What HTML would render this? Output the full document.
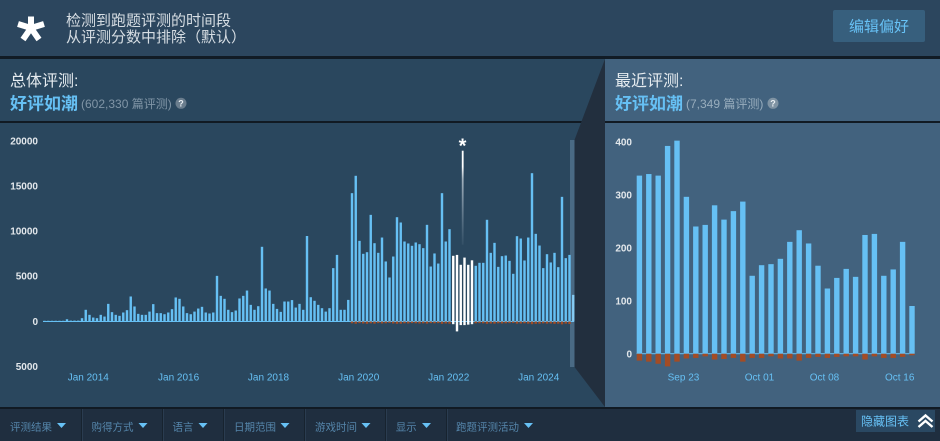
<!DOCTYPE html>
<html><head><meta charset="utf-8">
<style>
html,body{margin:0;padding:0;width:940px;height:441px;overflow:hidden;background:#1f2e3f}
svg{display:block}
text{font-family:"Liberation Sans","Noto Sans CJK SC",sans-serif}
</style></head>
<body>
<svg width="940" height="441" viewBox="0 0 940 441" xmlns="http://www.w3.org/2000/svg">
<defs>
<linearGradient id="spk" x1="0" y1="0" x2="0" y2="1">
<stop offset="0" stop-color="#ffffff"/>
<stop offset="0.17" stop-color="#ffffff"/>
<stop offset="0.3" stop-color="#b8c4ce" stop-opacity="0.85"/>
<stop offset="1" stop-color="#8fa3b4" stop-opacity="0.1"/>
</linearGradient>
</defs>
<!-- backgrounds -->
<rect x="0" y="0" width="940" height="441" fill="#2a475e"/>
<rect x="0" y="0" width="940" height="56" fill="#2c465e"/>
<rect x="0" y="56" width="940" height="3" fill="#111b25"/>
<rect x="0" y="121" width="940" height="2" fill="#111a23"/>
<polygon points="574.5,140 605,59 605,407 574.5,367" fill="#222f3e"/>
<rect x="605" y="59" width="335" height="348" fill="#42627e"/>
<rect x="605" y="121" width="335" height="2" fill="#111a23"/>
<rect x="0" y="407" width="940" height="2" fill="#111a23"/>
<rect x="0" y="409" width="940" height="32" fill="#1f2e3f"/>

<!-- top bar -->
<g stroke="#ffffff" stroke-width="6" stroke-linecap="butt">
<line x1="31" y1="28" x2="31" y2="16.5"/>
<line x1="31" y1="28" x2="18" y2="24"/>
<line x1="31" y1="28" x2="44" y2="24"/>
<line x1="31" y1="28" x2="23" y2="39.5"/>
<line x1="31" y1="28" x2="39" y2="39.5"/>
</g>
<text x="66" y="25.7" font-size="15" fill="#d6dde3">检测到跑题评测的时间段</text>
<text x="66" y="42" font-size="15" fill="#d6dde3">从评测分数中排除（默认）</text>
<rect x="833" y="10" width="92" height="32" rx="2" fill="#375f7d"/>
<text x="879" y="31.4" font-size="15" fill="#67c1f5" text-anchor="middle">编辑偏好</text>

<!-- left header -->
<text x="10" y="86" font-size="16" fill="#e6ecf0">总体评测:</text>
<text x="10" y="109.5" font-size="17" font-weight="bold" fill="#66c0f4">好评如潮</text>
<text x="81" y="107.8" font-size="12" fill="#8095a6">(602,330 篇评测)</text>
<circle cx="181" cy="103.3" r="5.5" fill="#6a7d8d"/>
<text x="181" y="106.6" font-size="9" font-weight="bold" fill="#e8eef2" text-anchor="middle">?</text>

<!-- right header -->
<text x="615" y="86" font-size="16" fill="#e6ecf0">最近评测:</text>
<text x="615" y="109.5" font-size="17" font-weight="bold" fill="#66c0f4">好评如潮</text>
<text x="686" y="107.8" font-size="12" fill="#98adbd">(7,349 篇评测)</text>
<circle cx="773" cy="103.3" r="5.5" fill="#7f93a3"/>
<text x="773" y="106.6" font-size="9" font-weight="bold" fill="#e8eef2" text-anchor="middle">?</text>

<!-- left chart axes -->
<g font-size="10" font-weight="bold" fill="#e2e7eb" text-anchor="end">
<text x="38" y="144.6">20000</text>
<text x="38" y="189.6">15000</text>
<text x="38" y="234.6">10000</text>
<text x="38" y="279.6">5000</text>
<text x="38" y="325.2">0</text>
<text x="38" y="369.9">5000</text>
</g>
<g font-size="10" fill="#66c0f4" text-anchor="middle">
<text x="88.3" y="380.6">Jan 2014</text>
<text x="178.6" y="380.6">Jan 2016</text>
<text x="268.5" y="380.6">Jan 2018</text>
<text x="358.7" y="380.6">Jan 2020</text>
<text x="448.7" y="380.6">Jan 2022</text>
<text x="538.7" y="380.6">Jan 2024</text>
</g>

<rect x="570" y="140" width="4.5" height="227" fill="#4a6a84"/>
<rect x="43" y="321" width="531" height="1" fill="#66c0f4"/>

<g transform="translate(43.3 321.5) scale(1 -0.009)">
<g fill="#66c0f4">
<rect x="0" width="2.4" height="80"/><rect x="3.75" width="2.4" height="80"/><rect x="7.5" width="2.4" height="80"/><rect x="11.25" width="2.4" height="80"/><rect x="15" width="2.4" height="80"/><rect x="18.75" width="2.4" height="80"/><rect x="22.5" width="2.4" height="250"/><rect x="26.25" width="2.4" height="100"/><rect x="30" width="2.4" height="100"/><rect x="33.75" width="2.4" height="100"/>
<rect x="37.5" width="2.4" height="370"/><rect x="41.25" width="2.4" height="1300"/><rect x="45" width="2.4" height="740"/><rect x="48.75" width="2.4" height="440"/><rect x="52.5" width="2.4" height="370"/><rect x="56.25" width="2.4" height="740"/><rect x="60" width="2.4" height="550"/><rect x="63.75" width="2.4" height="1960"/><rect x="67.5" width="2.4" height="1040"/><rect x="71.25" width="2.4" height="740"/>
<rect x="75" width="2.4" height="630"/><rect x="78.75" width="2.4" height="1000"/><rect x="82.5" width="2.4" height="1260"/><rect x="86.25" width="2.4" height="2780"/><rect x="90" width="2.4" height="1670"/><rect x="93.75" width="2.4" height="850"/><rect x="97.5" width="2.4" height="740"/><rect x="101.25" width="2.4" height="740"/><rect x="105" width="2.4" height="1100"/><rect x="108.75" width="2.4" height="1930"/>
<rect x="112.5" width="2.4" height="930"/><rect x="116.25" width="2.4" height="930"/><rect x="120" width="2.4" height="810"/><rect x="123.75" width="2.4" height="1000"/><rect x="127.5" width="2.4" height="1370"/><rect x="131.25" width="2.4" height="2670"/><rect x="135" width="2.4" height="2520"/><rect x="138.75" width="2.4" height="1670"/><rect x="142.5" width="2.4" height="930"/><rect x="146.25" width="2.4" height="810"/>
<rect x="150" width="2.4" height="1100"/><rect x="153.75" width="2.4" height="1440"/><rect x="157.5" width="2.4" height="1630"/><rect x="161.25" width="2.4" height="1000"/><rect x="165" width="2.4" height="890"/><rect x="168.75" width="2.4" height="1000"/><rect x="172.5" width="2.4" height="5070"/><rect x="176.25" width="2.4" height="2850"/><rect x="180" width="2.4" height="2520"/><rect x="183.75" width="2.4" height="1300"/>
<rect x="187.5" width="2.4" height="1040"/><rect x="191.25" width="2.4" height="1220"/><rect x="195" width="2.4" height="2560"/><rect x="198.75" width="2.4" height="2850"/><rect x="202.5" width="2.4" height="3440"/><rect x="206.25" width="2.4" height="1850"/><rect x="210" width="2.4" height="1300"/><rect x="213.75" width="2.4" height="1700"/><rect x="217.5" width="2.4" height="8300"/><rect x="221.25" width="2.4" height="3670"/>
<rect x="225" width="2.4" height="3440"/><rect x="228.75" width="2.4" height="1960"/><rect x="232.5" width="2.4" height="1400"/><rect x="236.25" width="2.4" height="1070"/><rect x="240" width="2.4" height="2220"/><rect x="243.75" width="2.4" height="2220"/><rect x="247.5" width="2.4" height="2380"/><rect x="251.25" width="2.4" height="1550"/><rect x="255" width="2.4" height="1960"/><rect x="258.75" width="2.4" height="1300"/>
<rect x="262.5" width="2.4" height="9500"/><rect x="266.25" width="2.4" height="2700"/><rect x="270" width="2.4" height="2300"/><rect x="273.75" width="2.4" height="1850"/><rect x="277.5" width="2.4" height="1480"/><rect x="281.25" width="2.4" height="1100"/><rect x="285" width="2.4" height="1480"/><rect x="288.75" width="2.4" height="5930"/><rect x="292.5" width="2.4" height="7400"/><rect x="296.25" width="2.4" height="1300"/>
<rect x="300" width="2.4" height="1300"/><rect x="303.75" width="2.4" height="2400"/><rect x="307.5" width="2.4" height="14260"/><rect x="311.25" width="2.4" height="16190"/><rect x="315" width="2.4" height="8960"/><rect x="318.75" width="2.4" height="7520"/><rect x="322.5" width="2.4" height="7700"/><rect x="326.25" width="2.4" height="11850"/><rect x="330" width="2.4" height="8700"/><rect x="333.75" width="2.4" height="7630"/>
<rect x="337.5" width="2.4" height="9330"/><rect x="341.25" width="2.4" height="6670"/><rect x="345" width="2.4" height="4890"/><rect x="348.75" width="2.4" height="7220"/><rect x="352.5" width="2.4" height="11590"/><rect x="356.25" width="2.4" height="11000"/><rect x="360" width="2.4" height="8890"/><rect x="363.75" width="2.4" height="8670"/><rect x="367.5" width="2.4" height="8410"/><rect x="371.25" width="2.4" height="8780"/>
<rect x="375" width="2.4" height="8590"/><rect x="378.75" width="2.4" height="8150"/><rect x="382.5" width="2.4" height="10740"/><rect x="386.25" width="2.4" height="6110"/><rect x="390" width="2.4" height="7560"/><rect x="393.75" width="2.4" height="6440"/><rect x="397.5" width="2.4" height="14260"/><rect x="401.25" width="2.4" height="8890"/><rect x="405" width="2.4" height="10260"/>
<rect x="431.25" width="2.4" height="6190"/><rect x="435" width="2.4" height="6520"/><rect x="438.75" width="2.4" height="6520"/><rect x="442.5" width="2.4" height="11300"/><rect x="446.25" width="2.4" height="7630"/>
<rect x="450" width="2.4" height="8740"/><rect x="453.75" width="2.4" height="6070"/><rect x="457.5" width="2.4" height="7260"/><rect x="461.25" width="2.4" height="7330"/><rect x="465" width="2.4" height="6740"/><rect x="468.75" width="2.4" height="5300"/><rect x="472.5" width="2.4" height="9480"/><rect x="476.25" width="2.4" height="9220"/><rect x="480" width="2.4" height="6780"/><rect x="483.75" width="2.4" height="9330"/>
<rect x="487.5" width="2.4" height="16480"/><rect x="491.25" width="2.4" height="9740"/><rect x="495" width="2.4" height="8440"/><rect x="498.75" width="2.4" height="5930"/><rect x="502.5" width="2.4" height="7480"/><rect x="506.25" width="2.4" height="6560"/><rect x="510" width="2.4" height="7630"/><rect x="513.75" width="2.4" height="6040"/><rect x="517.5" width="2.4" height="13850"/><rect x="521.25" width="2.4" height="7040"/>
<rect x="525" width="2.4" height="7400"/>
</g>
<rect x="528.75" width="2.4" height="2960" fill="#86cbf3"/>
<g fill="#ffffff">
<rect x="408.75" width="2.4" height="7300"/><rect x="412.5" width="2.4" height="7400"/><rect x="416.25" width="2.4" height="6300"/><rect x="420" width="2.4" height="7100"/><rect x="423.75" width="2.4" height="6300"/><rect x="427.5" width="2.4" height="6800"/>
<rect x="408.75" y="-300" width="2.4" height="300"/><rect x="412.5" y="-1100" width="2.4" height="1100"/><rect x="416.25" y="-400" width="2.4" height="400"/><rect x="420" y="-400" width="2.4" height="400"/><rect x="423.75" y="-350" width="2.4" height="350"/><rect x="427.5" y="-300" width="2.4" height="300"/>
</g>
<g fill="#a34c25">
<rect x="307.5" y="-200" width="2.4" height="200"/><rect x="311.25" y="-250" width="2.4" height="250"/><rect x="315" y="-180" width="2.4" height="180"/><rect x="318.75" y="-220" width="2.4" height="220"/><rect x="322.5" y="-260" width="2.4" height="260"/><rect x="326.25" y="-200" width="2.4" height="200"/><rect x="330" y="-240" width="2.4" height="240"/><rect x="333.75" y="-180" width="2.4" height="180"/>
<rect x="337.5" y="-220" width="2.4" height="220"/><rect x="341.25" y="-200" width="2.4" height="200"/><rect x="345" y="-160" width="2.4" height="160"/><rect x="348.75" y="-220" width="2.4" height="220"/><rect x="352.5" y="-260" width="2.4" height="260"/><rect x="356.25" y="-240" width="2.4" height="240"/><rect x="360" y="-200" width="2.4" height="200"/><rect x="363.75" y="-220" width="2.4" height="220"/><rect x="367.5" y="-180" width="2.4" height="180"/><rect x="371.25" y="-200" width="2.4" height="200"/>
<rect x="375" y="-220" width="2.4" height="220"/><rect x="378.75" y="-200" width="2.4" height="200"/><rect x="382.5" y="-240" width="2.4" height="240"/><rect x="386.25" y="-180" width="2.4" height="180"/><rect x="390" y="-200" width="2.4" height="200"/><rect x="393.75" y="-180" width="2.4" height="180"/><rect x="397.5" y="-260" width="2.4" height="260"/><rect x="401.25" y="-220" width="2.4" height="220"/><rect x="405" y="-240" width="2.4" height="240"/>
<rect x="431.25" y="-200" width="2.4" height="200"/><rect x="435" y="-180" width="2.4" height="180"/><rect x="438.75" y="-200" width="2.4" height="200"/><rect x="442.5" y="-260" width="2.4" height="260"/><rect x="446.25" y="-220" width="2.4" height="220"/>
<rect x="450" y="-240" width="2.4" height="240"/><rect x="453.75" y="-200" width="2.4" height="200"/><rect x="457.5" y="-220" width="2.4" height="220"/><rect x="461.25" y="-200" width="2.4" height="200"/><rect x="465" y="-180" width="2.4" height="180"/><rect x="468.75" y="-160" width="2.4" height="160"/><rect x="472.5" y="-240" width="2.4" height="240"/><rect x="476.25" y="-220" width="2.4" height="220"/><rect x="480" y="-200" width="2.4" height="200"/><rect x="483.75" y="-240" width="2.4" height="240"/>
<rect x="487.5" y="-300" width="2.4" height="300"/><rect x="491.25" y="-260" width="2.4" height="260"/><rect x="495" y="-240" width="2.4" height="240"/><rect x="498.75" y="-200" width="2.4" height="200"/><rect x="502.5" y="-240" width="2.4" height="240"/><rect x="506.25" y="-220" width="2.4" height="220"/><rect x="510" y="-260" width="2.4" height="260"/><rect x="513.75" y="-240" width="2.4" height="240"/><rect x="517.5" y="-320" width="2.4" height="320"/><rect x="521.25" y="-240" width="2.4" height="240"/>
<rect x="525" y="-280" width="2.4" height="280"/>
</g>
</g>
<!-- spike + marker -->
<rect x="461.8" y="150.7" width="1.8" height="94" fill="url(#spk)"/>
<text x="462.5" y="152.7" font-size="20" font-weight="bold" fill="#ffffff" text-anchor="middle">*</text>

<!-- right chart -->
<g font-size="10" font-weight="bold" fill="#e2e7eb" text-anchor="end">
<text x="632" y="145.3">400</text>
<text x="632" y="198.6">300</text>
<text x="632" y="251.3">200</text>
<text x="632" y="304.3">100</text>
<text x="632" y="357.3">0</text>
</g>
<g font-size="10" fill="#66c0f4" text-anchor="middle">
<text x="683.5" y="380.6">Sep 23</text>
<text x="759.5" y="380.6">Oct 01</text>
<text x="824.5" y="380.6">Oct 08</text>
<text x="899.7" y="380.6">Oct 16</text>
</g>
<rect x="636.5" y="353.2" width="278" height="1" fill="#66c0f4"/>
<g transform="translate(636.7 353.7) scale(1 -0.53)">
<g fill="#66c0f4">
<rect x="0" width="5.4" height="336"/><rect x="9.4" width="5.4" height="339"/><rect x="18.8" width="5.4" height="336"/><rect x="28.2" width="5.4" height="392"/><rect x="37.6" width="5.4" height="402"/><rect x="47" width="5.4" height="296"/><rect x="56.4" width="5.4" height="240"/><rect x="65.8" width="5.4" height="243"/><rect x="75.2" width="5.4" height="280"/><rect x="84.6" width="5.4" height="253"/>
<rect x="94" width="5.4" height="269"/><rect x="103.4" width="5.4" height="287"/><rect x="112.8" width="5.4" height="147"/><rect x="122.2" width="5.4" height="167"/><rect x="131.6" width="5.4" height="169"/><rect x="141" width="5.4" height="179"/><rect x="150.4" width="5.4" height="211"/><rect x="159.8" width="5.4" height="233"/><rect x="169.2" width="5.4" height="208"/><rect x="178.6" width="5.4" height="166"/>
<rect x="188" width="5.4" height="123"/><rect x="197.4" width="5.4" height="143"/><rect x="206.8" width="5.4" height="160"/><rect x="216.2" width="5.4" height="145"/><rect x="225.6" width="5.4" height="224"/><rect x="235" width="5.4" height="226"/><rect x="244.4" width="5.4" height="147"/><rect x="253.8" width="5.4" height="159"/><rect x="263.2" width="5.4" height="211"/><rect x="272.6" width="5.4" height="90"/>
</g>
<g fill="#a34c25">
<rect x="0" y="-13" width="5.4" height="13"/><rect x="9.4" y="-15" width="5.4" height="15"/><rect x="18.8" y="-19" width="5.4" height="19"/><rect x="28.2" y="-24" width="5.4" height="24"/><rect x="37.6" y="-15" width="5.4" height="15"/><rect x="47" y="-9" width="5.4" height="9"/><rect x="56.4" y="-8" width="5.4" height="8"/><rect x="65.8" y="-5" width="5.4" height="5"/><rect x="75.2" y="-11" width="5.4" height="11"/><rect x="84.6" y="-10" width="5.4" height="10"/>
<rect x="94" y="-8" width="5.4" height="8"/><rect x="103.4" y="-15" width="5.4" height="15"/><rect x="112.8" y="-8" width="5.4" height="8"/><rect x="122.2" y="-8" width="5.4" height="8"/><rect x="131.6" y="-5" width="5.4" height="5"/><rect x="141" y="-9" width="5.4" height="9"/><rect x="150.4" y="-9" width="5.4" height="9"/><rect x="159.8" y="-13" width="5.4" height="13"/><rect x="169.2" y="-8" width="5.4" height="8"/><rect x="178.6" y="-6" width="5.4" height="6"/>
<rect x="188" y="-8" width="5.4" height="8"/><rect x="197.4" y="-6" width="5.4" height="6"/><rect x="206.8" y="-5" width="5.4" height="5"/><rect x="216.2" y="-5" width="5.4" height="5"/><rect x="225.6" y="-11" width="5.4" height="11"/><rect x="235" y="-5" width="5.4" height="5"/><rect x="244.4" y="-8" width="5.4" height="8"/><rect x="253.8" y="-8" width="5.4" height="8"/><rect x="263.2" y="-6" width="5.4" height="6"/><rect x="272.6" y="-3" width="5.4" height="3"/>
</g>
</g>

<!-- bottom filter bar -->
<g fill="#17232f">
<rect x="81" y="409" width="1" height="32"/><rect x="162" y="409" width="1" height="32"/><rect x="223" y="409" width="1" height="32"/><rect x="304" y="409" width="1" height="32"/><rect x="385" y="409" width="1" height="32"/><rect x="446" y="409" width="1" height="32"/>
</g>
<g fill="#2a3c50">
<rect x="82" y="409" width="1" height="32"/><rect x="163" y="409" width="1" height="32"/><rect x="224" y="409" width="1" height="32"/><rect x="305" y="409" width="1" height="32"/><rect x="386" y="409" width="1" height="32"/><rect x="447" y="409" width="1" height="32"/>
</g>
<g font-size="10.5" fill="#5586ab">
<text x="10" y="430.7">评测结果</text>
<text x="91.5" y="430.7">购得方式</text>
<text x="172.5" y="430.7">语言</text>
<text x="234" y="430.7">日期范围</text>
<text x="315" y="430.7">游戏时间</text>
<text x="395.7" y="430.7">显示</text>
<text x="456" y="430.7">跑题评测活动</text>
</g>
<g fill="#67c1f5">
<polygon points="57,423 66,423 61.5,428"/>
<polygon points="138.5,423 147.5,423 143,428"/>
<polygon points="198.5,423 207.5,423 203,428"/>
<polygon points="280.5,423 289.5,423 285,428"/>
<polygon points="361.5,423 370.5,423 366,428"/>
<polygon points="422,423 431,423 426.5,428"/>
<polygon points="524,423 533,423 528.5,428"/>
</g>
<rect x="856" y="410" width="79" height="22" fill="#2a4862"/>
<text x="861" y="425.3" font-size="12" fill="#67c1f5">隐藏图表</text>
<g fill="none" stroke="#ffffff" stroke-width="2.4">
<polyline points="918.5,421.5 925.5,415.5 932.5,421.5"/>
<polyline points="918.5,427 925.5,421 932.5,427"/>
</g>
</svg>
</body></html>
